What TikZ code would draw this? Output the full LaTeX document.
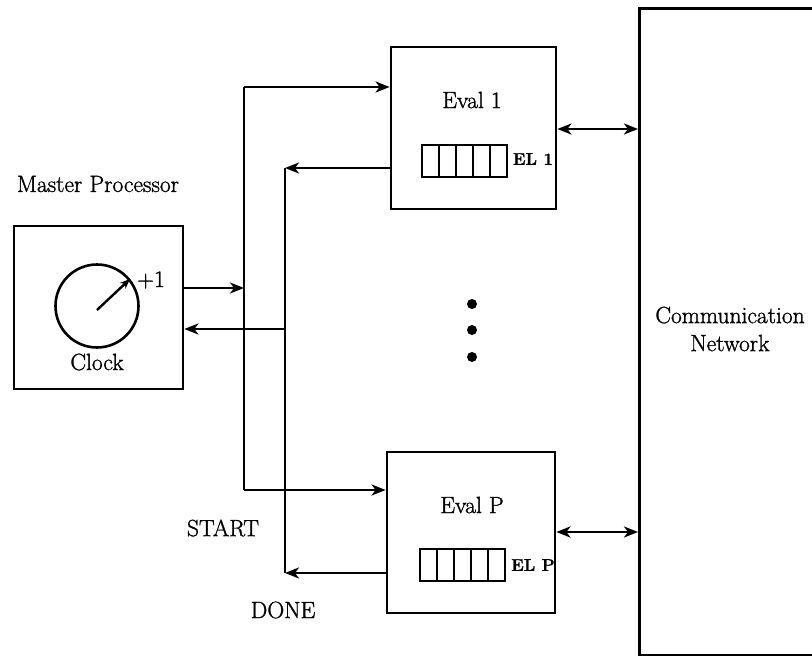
\documentclass[tikz,border=0pt]{standalone}
\usepackage{fontspec}
\setmainfont{Latin Modern Roman}[FakeBold=1.2]
\usetikzlibrary{arrows.meta}
\begin{document}
\begin{tikzpicture}[x=1pt,y=-1pt,
  every path/.style={line width=2.8pt},
  box/.style={draw,line width=2.8pt,inner sep=0pt},
  arr/.style={-{Stealth[length=14pt,width=11pt,inset=4pt]}},
  arr2/.style={{Stealth[length=14pt,width=11pt,inset=4pt]}-{Stealth[length=14pt,width=11pt,inset=4pt]}},
  lbl/.style={font=\fontsize{23.5}{28}\selectfont,inner sep=0pt},
  small/.style={font=\fontsize{17}{20}\selectfont\bfseries,inner sep=0pt},
  cell/.style={draw,line width=2.4pt,minimum width=17pt,minimum height=32pt,inner sep=0pt}]
\useasboundingbox (0,0) rectangle (812,656);
% boxes
\node[box,minimum width=169pt,minimum height=163pt] (master) at (98.5,307.5) {};
\node[box,minimum width=165pt,minimum height=162pt] (eval1) at (473.5,128) {};
\node[box,minimum width=168pt,minimum height=161pt] (evalP) at (471,532.5) {};
\node[box,minimum width=260pt,minimum height=647pt,anchor=north west] (comm) at (638,7) {};
% labels
\node[lbl] (mp) at (98,184) {Master Processor};
\node[lbl] (clk) at (97,362) {Clock};
\node[lbl] (plus) at (151,280) {+1};
\node[lbl] (e1) at (472,100) {Eval 1};
\node[lbl] (eP) at (472,505) {Eval P};
\node[lbl,align=center] (cn) at (730,329) {Communication\\Network};
\node[lbl] (start) at (223,528) {START};
\node[lbl] (done) at (283,610) {DONE};
% clock
\node[draw,circle,line width=2.6pt,minimum size=83pt,inner sep=0pt] (dial) at (97,306) {};
\coordinate (hand) at (130,279);
\draw[-{Stealth[length=10pt,width=8pt]},line width=2.4pt] (dial.center) ++(0,4) coordinate (hc) (hc) -- (hand);
% event lists
\foreach \i in {0,...,4}{
  \node[cell] (qa\i) at (430.5+17*\i,161) {};
  \node[cell] (qb\i) at (428.5+17*\i,565) {};
}
\node[small] (el1) at (533,159) {EL 1};
\node[small] (elP) at (533,565) {EL P};
% dots
\foreach \y/\n in {304/1,330/2,357/3}
  \fill (472,\y) circle (5pt) coordinate (dot\n);
% START lines
\coordinate (sTop) at (244,87);
\coordinate (sBot) at (244,490);
\coordinate (sMid) at (244,288);
\draw (sTop) -- (sBot);
\draw[arr] (master.east |- sMid) -- (sMid);
\draw[arr] (sTop) -- (eval1.west |- sTop);
\draw[arr] (sBot) -- (evalP.west |- sBot);
% DONE lines
\coordinate (dTop) at (285,168);
\coordinate (dBot) at (285,573);
\coordinate (dMid) at (285,329);
\draw (dTop) -- (dBot);
\draw[arr] (eval1.west |- dTop) -- (dTop);
\draw[arr] (evalP.west |- dBot) -- (dBot);
\draw[arr] (dMid) -- (master.east |- dMid);
% network links
\coordinate (n1) at (600,129);
\coordinate (n2) at (600,532);
\draw[arr2] (eval1.east |- n1) -- (comm.west |- n1);
\draw[arr2] (evalP.east |- n2) -- (comm.west |- n2);
\end{tikzpicture}
\end{document}
